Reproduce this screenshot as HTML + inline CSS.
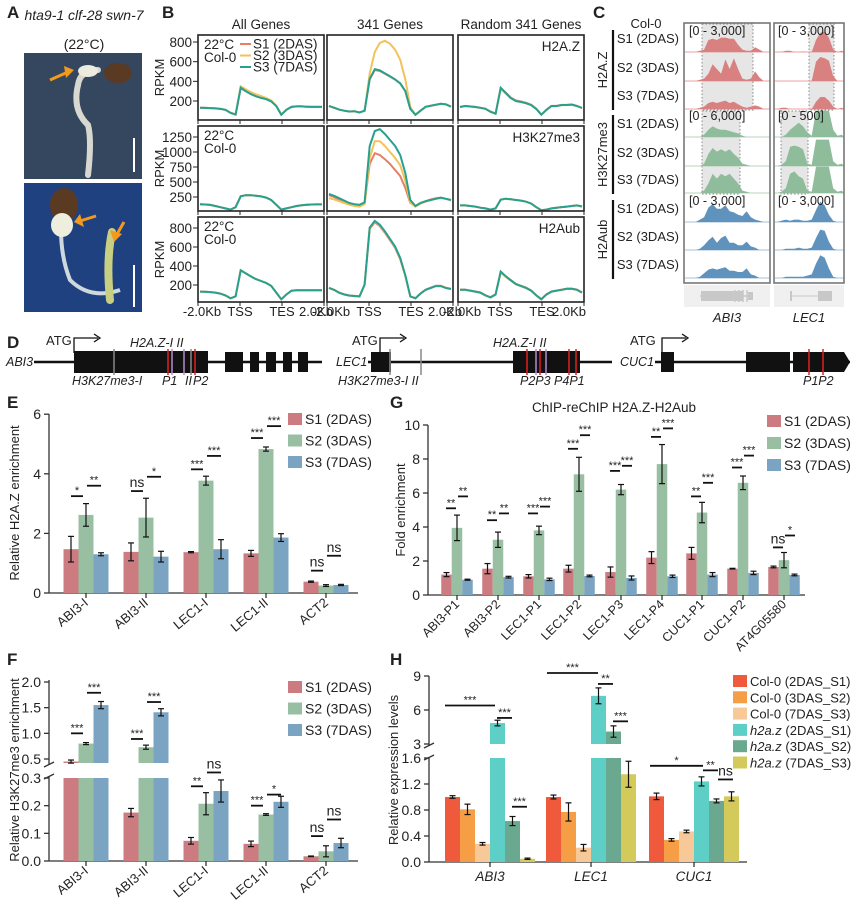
<!DOCTYPE html>
<html><head><meta charset="utf-8"><style>
html,body{margin:0;padding:0;background:#fff;width:860px;height:912px;overflow:hidden}
svg text{font-family:"Liberation Sans",Arial,sans-serif;fill:#222}
</style></head><body>
<svg id="fig" xmlns="http://www.w3.org/2000/svg" width="860" height="912" viewBox="0 0 860 912"></svg>
<script>
// ---------- Panel B profile data (RPKM, 25 bins: -2kb .. TSS(8) .. TES(16) .. +2kb) ----------
const h2az_all_s1=[130,130,128,125,120,110,80,62,330,300,272,252,236,222,200,150,62,110,140,145,145,142,140,140,140];
const h2az_all_s2=[132,131,129,126,121,112,82,64,350,318,290,268,250,232,205,152,64,112,141,146,146,143,141,141,141];
const h2az_all_s3=[131,130,128,125,120,110,80,62,335,300,270,248,232,218,196,148,60,110,140,145,145,142,140,140,140];
const h2az_341_s1=[148,130,112,100,92,95,82,100,420,515,505,478,448,418,378,300,120,60,100,140,150,160,170,165,142];
const h2az_341_s2=[150,132,112,101,93,96,83,100,480,700,790,812,782,722,620,420,140,60,100,141,152,162,172,166,143];
const h2az_341_s3=[150,132,113,101,93,96,83,101,425,525,512,482,452,420,380,302,120,60,101,141,152,162,172,166,143];
const h2az_rnd_s1=[140,150,145,140,132,122,92,72,330,285,235,205,195,182,162,122,62,110,150,150,160,160,165,150,130];
const h2az_rnd_s2=[138,148,144,138,130,120,90,70,320,275,228,200,190,176,156,118,60,108,148,148,158,158,162,148,128];
const h2az_rnd_s3=[139,149,144,139,131,121,91,71,335,280,230,200,190,178,158,120,61,109,149,149,159,159,163,149,129];
const k27_all=[130,125,118,100,80,60,40,80,262,280,280,272,260,240,200,120,40,60,80,100,112,120,125,126,126];
const k27_341_s1=[280,250,200,170,140,120,110,150,800,980,950,880,800,700,600,400,150,100,150,180,210,230,240,220,200];
const k27_341_s2=[230,210,180,150,120,100,90,130,900,1180,1180,1100,1000,900,780,520,160,90,140,170,200,220,230,220,190];
const k27_341_s3=[300,270,230,190,150,130,120,160,1100,1350,1380,1300,1200,1100,950,650,200,100,150,180,200,220,240,220,200];
const k27_rnd=[110,110,100,90,72,60,40,60,205,222,212,200,190,172,140,80,30,40,60,70,82,90,100,110,92];
const ub_all=[130,128,125,120,110,90,60,80,355,322,290,262,242,222,190,120,50,100,140,145,145,145,145,145,145];
const ub_341_s1=[172,150,120,102,90,85,80,200,790,860,820,750,672,592,472,298,80,62,112,150,172,192,192,172,160];
const ub_341_s2=[170,150,120,100,90,85,80,200,800,870,830,760,680,600,480,300,80,60,110,148,170,190,190,170,158];
const ub_341_s3=[168,148,118,100,88,84,80,205,805,875,835,765,685,605,485,302,80,60,110,150,168,188,188,168,158];
const ub_rnd_s1=[152,152,142,132,122,92,72,102,342,292,252,212,192,172,142,92,52,102,132,142,152,162,162,152,122];
const ub_rnd_s2=[148,148,138,128,118,88,68,98,330,285,245,206,186,166,138,88,48,98,128,138,148,158,158,148,118];
const ub_rnd_s3=[150,150,140,130,120,90,70,100,340,290,250,210,190,170,140,90,50,100,130,140,150,160,160,150,120];
const bTicksR1=[200,400,600,800];
const bTicksR2=[250,500,750,1000,1250];
const bTicksR3=[200,400,600,800];

// ---------- Panel E data ----------
const eCats=["ABI3-I","ABI3-II","LEC1-I","LEC1-II","ACT2"];
const eS1=[1.47,1.38,1.37,1.33,0.38];
const eS2=[2.62,2.53,3.77,4.83,0.25];
const eS3=[1.30,1.22,1.47,1.86,0.27];
const eErr1=[0.43,0.30,0.02,0.10,0.02];
const eErr2=[0.38,0.65,0.15,0.07,0.03];
const eErr3=[0.05,0.18,0.32,0.13,0.02];
const eSigL=["*","ns","***","***","ns"];
const eSigR=["**","*","***","***","ns"];
const eSigLy=[3.25,3.42,4.15,5.2,0.75];
const eSigRy=[3.6,3.9,4.6,5.6,1.25];
const eTicks=[0,2,4,6];

// ---------- Panel G data ----------
const gCats=["ABI3-P1","ABI3-P2","LEC1-P1","LEC1-P2","LEC1-P3","LEC1-P4","CUC1-P1","CUC1-P2","AT4G05580"];
const gS1=[1.2,1.55,1.1,1.55,1.35,2.2,2.45,1.55,1.65];
const gS2=[3.95,3.25,3.8,7.1,6.2,7.7,4.85,6.6,2.05];
const gS3=[0.9,1.05,0.92,1.12,1.0,1.1,1.2,1.3,1.18];
const gErr1=[0.12,0.3,0.1,0.2,0.3,0.35,0.35,0.02,0.05];
const gErr2=[0.75,0.45,0.25,1.0,0.3,1.15,0.6,0.4,0.45];
const gErr3=[0.03,0.05,0.07,0.05,0.12,0.07,0.12,0.1,0.05];
const gSigL=["**","**","***","***","***","**","**","***","ns"];
const gSigR=["**","**","***","***","***","***","***","***","*"];
const gSigLy=[5.1,4.4,4.8,8.6,7.3,9.3,5.8,7.5,2.8];
const gSigRy=[5.8,4.8,5.2,9.4,7.6,9.8,6.6,8.2,3.5];
const gTicks=[0,2,4,6,8,10];

// ---------- Panel F data ----------
const fCats=["ABI3-I","ABI3-II","LEC1-I","LEC1-II","ACT2"];
const fS1=[0.45,0.175,0.073,0.062,0.017];
const fS2=[0.80,0.73,0.207,0.168,0.035];
const fS3=[1.55,1.41,0.253,0.214,0.065];
const fErr1=[0.03,0.015,0.012,0.01,0.001];
const fErr2=[0.02,0.04,0.04,0.003,0.02];
const fErr3=[0.07,0.07,0.04,0.02,0.017];
const fSigL=["***","***","**","***","ns"];
const fSigR=["***","***","ns","*","ns"];
const fSigLy=[1.0,0.89,0.27,0.2,0.09];
const fSigRy=[1.79,1.61,0.32,0.24,0.15];
const fTicksLow=[0.0,0.1,0.2,0.3];
const fTicksHigh=[0.5,1.0,1.5,2.0];

// ---------- Panel H data ----------
const hCats=["ABI3","LEC1","CUC1"];
const hColS1=[1.0,1.0,1.01];
const hColS2=[0.81,0.77,0.34];
const hColS3=[0.28,0.22,0.47];
const hMutS1=[4.85,7.25,1.24];
const hMutS2=[0.63,4.1,0.94];
const hMutS3=[0.05,1.35,1.01];
const hErrs=[[0.02,0.03,0.05],[0.08,0.14,0.02],[0.02,0.05,0.02],[0.25,0.7,0.07],[0.07,0.5,0.03],[0.01,0.2,0.07]];
const hTicksLow=[0.0,0.4,0.8,1.2,1.6];
const hTicksHigh=[3,6,9];

// ---------- Panel C track data ----------
const azAbi3=[[0,0,0,0.05,0.1,0.5,0.55,0.5,0.6,0.6,0.55,0.55,0.3,0.1,0.05,0.05,0.2,0.1,0,0],[0,0,0,0.05,0.1,0.3,0.7,0.5,0.3,0.9,0.5,0.95,0.5,0.1,0.05,0.1,0.4,0.15,0,0],[0,0,0,0.05,0.1,0.25,0.3,0.25,0.3,0.35,0.25,0.3,0.2,0.1,0.05,0.1,0.15,0.1,0,0]];
const azLec1=[[0,0,0.05,0.05,0,0,0.02,0,0,0.5,0.8,0.85,0.6,0.1,0,0.05],[0,0,0,0,0,0,0,0,0,0.8,1,0.95,0.85,0.2,0,0],[0,0.05,0.05,0,0,0,0,0,0,0.3,0.5,0.5,0.35,0.1,0,0.05]];
const k27Abi3=[[0,0,0,0,0.1,0.3,0.45,0.35,0.3,0.3,0.25,0.2,0.15,0.05,0,0,0,0,0,0],[0,0,0,0,0.1,0.5,0.75,0.6,0.7,0.6,0.7,0.5,0.35,0.1,0.05,0,0,0,0,0],[0,0,0,0,0.1,0.4,0.8,0.6,0.8,0.7,0.8,0.6,0.4,0.1,0.05,0,0,0,0,0]];
const k27Lec1=[[0,0,0.1,0.3,0.45,0.6,0.45,0.2,0.05,1.1,1.1,1.1,1.1,0.3,0.05,0.1],[0,0.05,0.2,0.8,0.85,0.8,0.7,0.1,0.05,1.1,1.1,1.1,1.1,0.2,0.05,0.1],[0,0.05,0.2,0.8,0.9,0.7,0.6,0.1,0.05,1.1,1.1,1.1,1.1,0.2,0.05,0.1]];
const ubAbi3=[[0,0,0,0.1,0.2,0.6,0.75,0.55,0.55,0.7,0.45,0.4,0.3,0.25,0.45,0.2,0.1,0.05,0,0],[0,0,0,0.05,0.2,0.4,0.55,0.3,0.5,0.6,0.3,0.3,0.2,0.2,0.35,0.15,0.1,0,0,0],[0,0,0,0.05,0.2,0.35,0.4,0.35,0.4,0.45,0.3,0.3,0.25,0.25,0.4,0.15,0.1,0,0,0]];
const ubLec1=[[0,0.05,0.1,0.05,0.1,0.1,0.05,0.05,0.1,0.5,0.85,0.7,0.3,0.05,0,0],[0,0,0.05,0.05,0.05,0.1,0.05,0.05,0.1,0.5,0.85,0.8,0.35,0.05,0,0],[0,0,0.05,0.05,0.05,0.05,0.05,0.1,0.15,0.6,0.95,0.85,0.4,0.05,0,0]];

const NS="http://www.w3.org/2000/svg";
const svg=document.getElementById('fig');
function mk(tag,attrs,name){
  const el=document.createElementNS(NS,tag);
  for(const k in attrs) el.setAttribute(k,attrs[k]);
  
  
  svg.appendChild(el);
  return el;
}
function txt(x,y,s,attrs,name){
  const a=Object.assign({x:x,y:y,'font-size':12.5},attrs||{});
  const t=mk('text',a,name);
  t.textContent=s;
  return t;
}
function line(x1,y1,x2,y2,stroke,w,name){return mk('line',{x1,y1,x2,y2,stroke:stroke,'stroke-width':w},name);}
function panelLabel(x,y,s){txt(x,y,s,{'font-size':17,'font-weight':'bold',fill:'#111'},'panel-label-'+s.toLowerCase());}

// ================= Panel A =================
panelLabel(7,18,'A');
txt(84,20,'hta9-1 clf-28 swn-7',{'font-size':14,'font-style':'italic','text-anchor':'middle'},'genotype-title');
txt(84,49,'(22°C)',{'font-size':14,'text-anchor':'middle'},'temperature-label');
mk('rect',{x:24,y:53,width:118,height:126,fill:'#34475f'},'photo-top');
mk('path',{d:'M98 70 Q80 70 78 85 Q72 110 88 125 Q92 140 88 175',stroke:'#d8d8d0','stroke-width':6,fill:'none','stroke-linecap':'round'},'seedling-top-root');
mk('ellipse',{cx:88,cy:71,rx:10,ry:6,fill:'#ecebdf'},'seedling-top-cotyledon');
mk('ellipse',{cx:118,cy:73,rx:14,ry:10,fill:'#5a3a22'},'seed-coat-top');
mk('path',{d:'M50 80 L68 72',stroke:'#f39a1e','stroke-width':3},'arrow-top');
mk('path',{d:'M64 66 L74 70 L66 78 Z',fill:'#f39a1e'},'arrow-top-head');
line(134,138,134,172,'#fff',2,'scale-bar-top');
mk('rect',{x:24,y:183,width:118,height:129,fill:'#1f4180'},'photo-bottom');
mk('path',{d:'M62 210 Q58 250 70 280 Q90 300 120 290',stroke:'#cfd8dc','stroke-width':4,fill:'none'},'seedling-bottom-root');
mk('ellipse',{cx:64,cy:205,rx:14,ry:17,fill:'#5b3a22'},'seed-coat-bottom');
mk('ellipse',{cx:62,cy:225,rx:11,ry:12,fill:'#eeeede'},'seedling-bottom-cotyledon');
mk('path',{d:'M112 232 Q106 260 110 300',stroke:'#c8cf82','stroke-width':8,fill:'none','stroke-linecap':'round'},'seedling-bottom-shoot');
mk('path',{d:'M96 216 L80 221',stroke:'#f39a1e','stroke-width':3},'arrow-bottom-1');
mk('path',{d:'M80 214 L74 222 L84 227 Z',fill:'#f39a1e'},'arrow-bottom-1-head');
mk('path',{d:'M124 222 L116 236',stroke:'#f39a1e','stroke-width':3},'arrow-bottom-2');
mk('path',{d:'M110 230 L114 242 L122 234 Z',fill:'#f39a1e'},'arrow-bottom-2-head');
line(134,265,134,307,'#fff',2,'scale-bar-bottom');

// ================= Panel B =================
panelLabel(162,18,'B');
const BC=['#e57f66','#f2c35a','#28a08f'];
const bColsX=[198,327,458], bW=126;
const bColTitles=['All Genes','341 Genes','Random 341 Genes'];
bColTitles.forEach((t,i)=>txt(bColsX[i]+bW/2,29,t,{'text-anchor':'middle','font-size':13.5},'column-title-'+i));
const bRows=[
 {top:35,bot:120,y:v=>101-(v-200)*0.0983,ticks:bTicksR1,mark:'H2A.Z',data:[[h2az_all_s1,h2az_all_s2,h2az_all_s3],[h2az_341_s1,h2az_341_s2,h2az_341_s3],[h2az_rnd_s1,h2az_rnd_s2,h2az_rnd_s3]]},
 {top:126,bot:211,y:v=>197-(v-250)*0.06,ticks:bTicksR2,mark:'H3K27me3',data:[[k27_all,k27_all,k27_all],[k27_341_s1,k27_341_s2,k27_341_s3],[k27_rnd,k27_rnd,k27_rnd]]},
 {top:217,bot:302,y:v=>285-(v-200)*0.095,ticks:bTicksR3,mark:'H2Aub',data:[[ub_all,ub_all,ub_all],[ub_341_s1,ub_341_s2,ub_341_s3],[ub_rnd_s1,ub_rnd_s2,ub_rnd_s3]]}
];
bRows.forEach((r,ri)=>{
  txt(160,(r.top+r.bot)/2,'RPKM',{'text-anchor':'middle','font-size':13,transform:`rotate(-90 160 ${(r.top+r.bot)/2})`,dy:4},'y-axis-title-rpkm-'+ri);
  r.ticks.forEach(t=>{const y=r.y(t);line(193,y,198,y,'#222',1,'y-tick');txt(192,y+5,String(t),{'text-anchor':'end','font-size':13.5},'y-tick-label');});
  bColsX.forEach((x0,ci)=>{
    mk('clipPath',{id:`cp${ri}${ci}`},'clip');
    const cp=svg.lastChild;
    const cr=document.createElementNS(NS,'rect');cr.setAttribute('x',x0);cr.setAttribute('y',r.top);cr.setAttribute('width',bW);cr.setAttribute('height',r.bot-r.top);cp.appendChild(cr);
    r.data[ci].forEach((arr,si)=>{
      const pts=arr.map((v,i)=>`${(x0+2+i/(arr.length-1)*(bW-4)).toFixed(1)},${r.y(v).toFixed(1)}`).join(' ');
      mk('polyline',{points:pts,fill:'none',stroke:BC[si],'stroke-width':2,'clip-path':`url(#cp${ri}${ci})`},`profile-${r.mark}-col${ci}-s${si+1}`);
    });
    mk('rect',{x:x0,y:r.top,width:bW,height:r.bot-r.top,fill:'none',stroke:'#222','stroke-width':1.6},'profile-panel-frame');
    [0,1/3,2/3,1].forEach(f=>line(x0+f*bW,r.bot,x0+f*bW,r.bot+4,'#222',1,'x-tick'));
  });
  txt(580,r.top+16,r.mark,{'text-anchor':'end','font-size':13.5},'mark-label-'+r.mark);
  txt(204,r.top+14,'22°C',{'font-size':13.5},'condition-temp');
  txt(204,r.top+27,'Col-0',{'font-size':13.5},'condition-genotype');
});
['S1 (2DAS)','S2 (3DAS)','S3 (7DAS)'].forEach((s,i)=>{
  line(240,44+i*11.5,251,44+i*11.5,BC[i],2,'legend-line-s'+(i+1));
  txt(253,48.5+i*11.5,s,{'font-size':13.5},'legend-entry-s'+(i+1));
});
bColsX.forEach((x0,ci)=>{
  txt(x0+4,316,'-2.0Kb',{'text-anchor':'middle','font-size':13},'x-label-minus2kb');
  txt(x0+bW/3,316,'TSS',{'text-anchor':'middle','font-size':13},'x-label-tss');
  txt(x0+2*bW/3,316,'TES',{'text-anchor':'middle','font-size':13},'x-label-tes');
  if(ci==2) txt(x0+bW+2,316,'2.0Kb',{'text-anchor':'end','font-size':13},'x-label-2kb');
  else txt(x0+bW-8,316,'2.0Kb',{'text-anchor':'middle','font-size':13},'x-label-2kb');
});

// ================= Panel C =================
panelLabel(593,18,'C');
txt(646,28,'Col-0',{'text-anchor':'middle','font-size':13},'track-genotype');
const cBase=[52,81,109,137,166,193,222,250,278];
const cColors=['#d98080','#8fbd9c','#5f93bd'];
const cLine=['#eaa0a0','#b7d3be','#a4c0da'];
const cGroups=['H2A.Z','H3K27me3','H2Aub'];
const cAbi=[azAbi3,k27Abi3,ubAbi3], cLec=[azLec1,k27Lec1,ubLec1];
mk('rect',{x:702,y:24,width:51,height:86,fill:'#e6e6e6',stroke:'#888','stroke-dasharray':'1.5,2'},'abi3-h2az-region');
mk('rect',{x:702,y:111,width:38,height:83,fill:'#e6e6e6',stroke:'#888','stroke-dasharray':'1.5,2'},'abi3-k27-region');
mk('rect',{x:809,y:24,width:25,height:86,fill:'#e6e6e6',stroke:'#888','stroke-dasharray':'1.5,2'},'lec1-h2az-region');
mk('rect',{x:781,y:111,width:27,height:83,fill:'#e6e6e6',stroke:'#888','stroke-dasharray':'1.5,2'},'lec1-k27-region');
function track(x0,w,base,h,col,lc,name){
  const n=h.length,bw=w/n;let d=`M${x0},${base}`;
  h.forEach((v,i)=>{const xm=x0+(i+0.5)*bw;d+=` L${xm.toFixed(1)},${(base-Math.min(v,1.1)*24).toFixed(1)}`;});
  d+=` L${x0+w},${base} Z`;
  line(x0,base,x0+w,base,lc,1,name+'-baseline');
  mk('path',{d:d,fill:col,stroke:'none'},name);
}
for(let g=0;g<3;g++){
  for(let s=0;s<3;s++){
    const b=cBase[g*3+s];
    track(685,85,b,cAbi[g][s],cColors[g],cLine[g],`track-abi3-${cGroups[g]}-s${s+1}`);
    track(775,69,b,cLec[g][s],cColors[g],cLine[g],`track-lec1-${cGroups[g]}-s${s+1}`);
    txt(679,b-9,['S1 (2DAS)','S2 (3DAS)','S3 (7DAS)'][s],{'text-anchor':'end','font-size':13},'track-label');
  }
  const y1=cBase[g*3]-22,y2=cBase[g*3+2]+1;
  line(613,y1,613,y2,'#111',2.2,'group-bar-'+cGroups[g]);
  txt(603,(y1+y2)/2,cGroups[g],{'text-anchor':'middle','font-size':13,transform:`rotate(-90 603 ${(y1+y2)/2})`,dy:4},'group-label-'+cGroups[g]);
}
[['[0 - 3,000]','[0 - 3,000]'],['[0 - 6,000]','[0 - 500]'],['[0 - 3,000]','[0 - 3,000]']].forEach((p,g)=>{
  txt(689,cBase[g*3]-17,p[0],{'font-size':12.5},'range-label-abi3');
  txt(778,cBase[g*3]-17,p[1],{'font-size':12.5},'range-label-lec1');
});
mk('rect',{x:684,y:23,width:86,height:260,fill:'none',stroke:'#777','stroke-width':1.6},'abi3-track-frame');
mk('rect',{x:774,y:23,width:70,height:260,fill:'none',stroke:'#777','stroke-width':1.6},'lec1-track-frame');
mk('rect',{x:684,y:285,width:86,height:22,fill:'#f0f0f0'},'abi3-gene-model-bg');
mk('rect',{x:774,y:285,width:70,height:22,fill:'#f0f0f0'},'lec1-gene-model-bg');
line(700,296,752,296,'#c8c8c8',1.5,'abi3-gene-line');
mk('rect',{x:701,y:291,width:42,height:10,fill:'#c8c8c8'},'abi3-exon');
[735,739,743,747].forEach(x=>line(x,290,x,302,'#c8c8c8',1.5,'abi3-small-exon'));
mk('rect',{x:748,y:292,width:5,height:8,fill:'#c8c8c8'},'abi3-utr');
line(791,296,820,296,'#c8c8c8',1,'lec1-gene-line');
line(791,291,791,301,'#c8c8c8',2,'lec1-exon1');
mk('rect',{x:818,y:291,width:14,height:10,fill:'#c8c8c8'},'lec1-exon2');
txt(727,322,'ABI3',{'text-anchor':'middle','font-size':13,'font-style':'italic'},'gene-name-abi3');
txt(809,322,'LEC1',{'text-anchor':'middle','font-size':13,'font-style':'italic'},'gene-name-lec1');

// ================= Panel D =================
panelLabel(7,348,'D');
const IT={'font-style':'italic','font-size':12.5};
function atg(x,tx){
  txt(tx,345,'ATG',{'font-size':13},'atg-label');
  mk('path',{d:`M${x} 353 L${x} 338 L${x+24} 338`,stroke:'#111','stroke-width':1.3,fill:'none'},'tss-arrow');
  mk('path',{d:`M${x+20} 334 L${x+26} 338 L${x+20} 342`,stroke:'#111','stroke-width':1.3,fill:'none'},'tss-arrow-head');
}
txt(6,366,'ABI3',IT,'gene-abi3-label');
line(34,362,322,362,'#111',2.5,'abi3-gene-body');
mk('rect',{x:74,y:351,width:134,height:22,fill:'#111'},'abi3-exon-1');
[[225,18],[250,9],[266,10],[283,9],[298,10]].forEach(e=>mk('rect',{x:e[0],y:352,width:e[1],height:20,fill:'#111'},'abi3-exon'));
atg(74,46);
line(114,349,114,375,'#888',1.5,'abi3-h3k27me3-site');
line(168,349,168,375,'#e02020',1.5,'abi3-p1');line(195,349,195,375,'#e02020',1.5,'abi3-p2');
line(172,349,172,375,'#b48cd0',1.5,'abi3-h2az-i');line(184,349,184,375,'#b48cd0',1.5,'abi3-h2az-ii');line(191,349,191,375,'#888',1.5,'abi3-h3k27me3-ii');
txt(130,347,'H2A.Z-I II',IT,'abi3-h2az-label');
txt(72,385,'H3K27me3-I',IT,'abi3-h3k27-label');
txt(162,385,'P1',IT,'abi3-p1-label');txt(185,385,'II',IT,'abi3-ii-label');txt(193,385,'P2',IT,'abi3-p2-label');
txt(336,366,'LEC1',IT,'gene-lec1-label');
line(368,362,612,362,'#111',2.5,'lec1-gene-body');
mk('rect',{x:371,y:352,width:20,height:20,fill:'#111'},'lec1-exon-1');
mk('rect',{x:513,y:351,width:67,height:22,fill:'#111'},'lec1-exon-2');
atg(380,352);
line(390,349,390,375,'#888',1.5,'lec1-k27-i');line(421,349,421,375,'#888',1.5,'lec1-k27-ii');
[527,540,569,576].forEach(x=>line(x,349,x,375,'#e02020',1.5,'lec1-primer-site'));
[536,546].forEach(x=>line(x,349,x,375,'#b48cd0',1.5,'lec1-h2az-site'));
txt(493,347,'H2A.Z-I  II',IT,'lec1-h2az-label');
txt(338,385,'H3K27me3-I II',IT,'lec1-h3k27-label');
txt(520,385,'P2P3 P4P1',IT,'lec1-primer-labels');
txt(620,366,'CUC1',IT,'gene-cuc1-label');
line(655,362,850,362,'#111',2.5,'cuc1-gene-body');
mk('rect',{x:661,y:352,width:13,height:20,fill:'#111'},'cuc1-exon-1');
mk('rect',{x:746,y:352,width:44,height:20,fill:'#111'},'cuc1-exon-2');
mk('path',{d:'M793 352 L844 352 L850 362 L844 372 L793 372 Z',fill:'#111'},'cuc1-exon-3');
atg(662,630);
line(809,349,809,375,'#e02020',1.5,'cuc1-p1');line(823,349,823,375,'#e02020',1.5,'cuc1-p2');
txt(803,385,'P1P2',IT,'cuc1-primer-labels');

// ================= generic bar helpers =================
function errBar(x,y1,y2,name){
  line(x,y1,x,y2,'#111',1.2,name);
  line(x-3,y1,x+3,y1,'#111',1.2,name+'-cap');
  line(x-3,y2,x+3,y2,'#111',1.2,name+'-cap');
}
function sig(x1,x2,y,label){
  line(x1,y,x2,y,'#111',1.8,'significance-line');
  txt((x1+x2)/2,label==='ns'?y-4:y-2,label,{'text-anchor':'middle','font-size':label==='ns'?14:11},'significance-label');
}
const SC=['#cc7b80','#98bfa2','#7aa4c1'];
function legend3(x,y,dy,fs){
  ['S1 (2DAS)','S2 (3DAS)','S3 (7DAS)'].forEach((s,i)=>{
    mk('rect',{x:x,y:y+i*dy-6,width:14,height:12,fill:SC[i]},'legend-swatch-s'+(i+1));
    txt(x+17,y+i*dy+5,s,{'font-size':fs},'legend-entry-s'+(i+1));
  });
}

// ================= Panel E =================
panelLabel(7,408,'E');
const yE=v=>593-v*29.8;
const eCx=[86,146,206,266,326];
line(49,414,49,593,'#333',1.3,'e-y-axis');line(49,593,358,593,'#333',1.3,'e-x-axis');
eTicks.forEach(t=>{line(44,yE(t),49,yE(t),'#333',1.3,'e-y-tick');txt(41,yE(t)+5,String(t),{'text-anchor':'end','font-size':14},'e-y-tick-label');});
txt(19,503,'Relative H2A.Z enrichment',{'text-anchor':'middle','font-size':13,transform:'rotate(-90 19 503)'},'e-y-axis-title');
[eS1,eS2,eS3].forEach((s,si)=>{const er=[eErr1,eErr2,eErr3][si];s.forEach((v,i)=>{
  const cx=eCx[i]+(si-1)*15;
  mk('rect',{x:cx-7.5,y:yE(v),width:15,height:593-yE(v),fill:SC[si]},`bar-e-${eCats[i]}-s${si+1}`);
  errBar(cx,yE(v+er[i]),yE(v-er[i]),'e-error-bar');
});});
eCats.forEach((c,i)=>{
  line(eCx[i],593,eCx[i],598,'#333',1.3,'e-x-tick');
  txt(eCx[i]+3,604,c,{'text-anchor':'end','font-size':13,transform:`rotate(-40 ${eCx[i]+3} 604)`},'e-x-label');
  sig(eCx[i]-15,eCx[i]-3,yE(eSigLy[i]),eSigL[i]);
  sig(eCx[i]+1,eCx[i]+15,yE(eSigRy[i]),eSigR[i]);
});
legend3(288,419,21.5,14);

// ================= Panel G =================
panelLabel(390,408,'G');
txt(614,412,'ChIP-reChIP H2A.Z-H2Aub',{'text-anchor':'middle','font-size':13.5},'g-chart-title');
const yG=v=>595-v*17;
const gCx=[457,498,539,579,621,662,702,743,784];
line(428,425,428,595,'#333',1.3,'g-y-axis');line(428,595,805,595,'#333',1.3,'g-x-axis');
gTicks.forEach(t=>{line(423,yG(t),428,yG(t),'#333',1.3,'g-y-tick');txt(420,yG(t)+5,String(t),{'text-anchor':'end','font-size':14},'g-y-tick-label');});
txt(405,510,'Fold enrichment',{'text-anchor':'middle','font-size':13,transform:'rotate(-90 405 510)'},'g-y-axis-title');
[gS1,gS2,gS3].forEach((s,si)=>{const er=[gErr1,gErr2,gErr3][si];s.forEach((v,i)=>{
  const cx=gCx[i]+(si-1)*10.5;
  mk('rect',{x:cx-5.25,y:yG(v),width:10.5,height:595-yG(v),fill:SC[si]},`bar-g-${gCats[i]}-s${si+1}`);
  errBar(cx,yG(v+er[i]),yG(v-er[i]),'g-error-bar');
});});
gCats.forEach((c,i)=>{
  line(gCx[i],595,gCx[i],600,'#333',1.3,'g-x-tick');
  txt(gCx[i]+3,605,c,{'text-anchor':'end','font-size':12.5,transform:`rotate(-45 ${gCx[i]+3} 605)`},'g-x-label');
  sig(gCx[i]-11,gCx[i]-1,yG(gSigLy[i]),gSigL[i]);
  sig(gCx[i]+1,gCx[i]+11,yG(gSigRy[i]),gSigR[i]);
});
legend3(767,421,22,14);

// ================= Panel F =================
panelLabel(7,665,'F');
const yF=v=>v<=0.3?861-v/0.3*83:(v<0.42?778-(v-0.3)/0.3*83:759-(v-0.5)/1.5*77);
const fCx=[86,146,206,266,326];
line(49,861,49,776,'#333',1.3,'f-y-axis-lower');line(49,765,49,680,'#333',1.3,'f-y-axis-upper');
line(44,779,54,774,'#333',1.3,'f-axis-break');line(44,767,54,762,'#333',1.3,'f-axis-break');
line(49,861,358,861,'#333',1.3,'f-x-axis');
fTicksLow.concat(fTicksHigh).forEach(t=>{line(44,yF(t),49,yF(t),'#333',1.3,'f-y-tick');txt(41,yF(t)+5,t.toFixed(1),{'text-anchor':'end','font-size':14},'f-y-tick-label');});
txt(19,770,'Relative H3K27me3 enrichment',{'text-anchor':'middle','font-size':13,transform:'rotate(-90 19 770)'},'f-y-axis-title');
[fS1,fS2,fS3].forEach((s,si)=>{const er=[fErr1,fErr2,fErr3][si];s.forEach((v,i)=>{
  const cx=fCx[i]+(si-1)*15;
  if(v>0.3){
    mk('rect',{x:cx-7.5,y:yF(0.3),width:15,height:861-yF(0.3),fill:SC[si]},`bar-f-${fCats[i]}-s${si+1}-lower`);
    mk('rect',{x:cx-7.5,y:yF(v),width:15,height:Math.max(1,763-yF(v)),fill:SC[si]},`bar-f-${fCats[i]}-s${si+1}-upper`);
  } else {
    mk('rect',{x:cx-7.5,y:yF(v),width:15,height:861-yF(v),fill:SC[si]},`bar-f-${fCats[i]}-s${si+1}`);
  }
  errBar(cx,yF(v+er[i]),yF(v-er[i]),'f-error-bar');
});});
fCats.forEach((c,i)=>{
  line(fCx[i],861,fCx[i],866,'#333',1.3,'f-x-tick');
  txt(fCx[i]+3,872,c,{'text-anchor':'end','font-size':13,transform:`rotate(-40 ${fCx[i]+3} 872)`},'f-x-label');
  sig(fCx[i]-15,fCx[i]-3,yF(fSigLy[i]),fSigL[i]);
  sig(fCx[i]+1,fCx[i]+15,yF(fSigRy[i]),fSigR[i]);
});
legend3(288,687,21.5,14);

// ================= Panel H =================
panelLabel(390,665,'H');
const yH=v=>v<=1.6?862-v/0.4*26:(v>=3?744-(v-3)/3*34:758-(v-1.6)/1.4*14);
const hCx=[490,591,694];
const HC=['#ef5a3c','#f59e45','#f7c898','#5dcfc6','#6aa88f','#d4c95b'];
const hSeries=[hColS1,hColS2,hColS3,hMutS1,hMutS2,hMutS3];
line(429,862,429,757,'#333',1.3,'h-y-axis-lower');line(429,746,429,676,'#333',1.3,'h-y-axis-upper');
line(424,760,434,755,'#333',1.3,'h-axis-break');line(424,748,434,743,'#333',1.3,'h-axis-break');
line(429,862,747,862,'#333',1.3,'h-x-axis');
hTicksLow.forEach(t=>{line(424,yH(t),429,yH(t),'#333',1.3,'h-y-tick');txt(421,yH(t)+5,t.toFixed(1),{'text-anchor':'end','font-size':14},'h-y-tick-label');});
hTicksHigh.forEach(t=>{line(424,yH(t),429,yH(t),'#333',1.3,'h-y-tick');txt(421,yH(t)+5,String(t),{'text-anchor':'end','font-size':14},'h-y-tick-label');});
txt(398,770,'Relative expression levels',{'text-anchor':'middle','font-size':13,transform:'rotate(-90 398 770)'},'h-y-axis-title');
hSeries.forEach((s,si)=>{s.forEach((v,i)=>{
  const x=hCx[i]-45+si*15;
  if(v>1.6){
    mk('rect',{x:x,y:yH(1.6),width:15,height:862-yH(1.6),fill:HC[si]},`bar-h-${hCats[i]}-${si}-lower`);
    mk('rect',{x:x,y:yH(v),width:15,height:744-yH(v),fill:HC[si]},`bar-h-${hCats[i]}-${si}-upper`);
  } else {
    mk('rect',{x:x,y:yH(v),width:15,height:862-yH(v),fill:HC[si]},`bar-h-${hCats[i]}-${si}`);
  }
  const e=hErrs[si][i];
  errBar(x+7.5,yH(v+e),yH(v-e),'h-error-bar');
});});
hCats.forEach((c,i)=>{
  line(hCx[i],862,hCx[i],867,'#333',1.3,'h-x-tick');
  txt(hCx[i],881,c,{'text-anchor':'middle','font-size':13.5,'font-style':'italic'},'h-x-label');
});
sig(445,495,yH(6.4),'***');sig(497,512,yH(5.3),'***');sig(512,527,yH(0.85),'***');
sig(547,598,673,'***');sig(598,613,yH(8.3),'**');sig(613,628,yH(5.0),'***');
sig(650,703,yH(1.48),'*');sig(703,718,yH(1.41),'**');sig(718,733,yH(1.27),'ns');
['Col-0 (2DAS_S1)','Col-0 (3DAS_S2)','Col-0 (7DAS_S3)','h2a.z (2DAS_S1)','h2a.z (3DAS_S2)','h2a.z (7DAS_S3)'].forEach((s,i)=>{
  const y=681+i*16.3;
  mk('rect',{x:733,y:y-6,width:14,height:12,fill:HC[i]},'h-legend-swatch-'+i);
  const t=txt(750,y+5,'',{'font-size':13},'h-legend-entry-'+i);
  const parts=s.split(' ');
  const a=document.createElementNS(NS,'tspan');a.textContent=parts[0]+' ';if(i>=3)a.setAttribute('font-style','italic');t.appendChild(a);
  const b=document.createElementNS(NS,'tspan');b.textContent=parts[1];t.appendChild(b);
});
</script>
</body></html>
